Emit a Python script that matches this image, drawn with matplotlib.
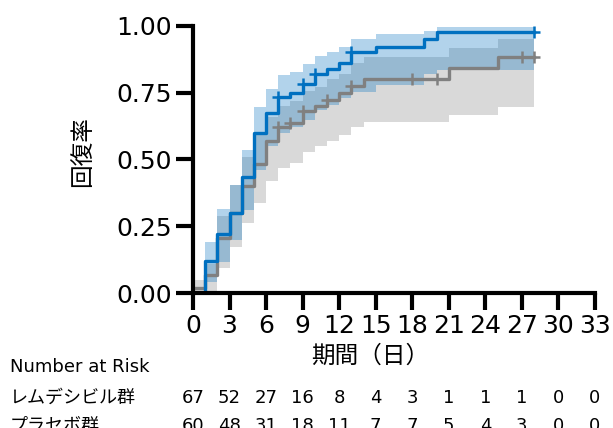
import numpy as np
import matplotlib
matplotlib.use("Agg")
import matplotlib.pyplot as plt
from matplotlib.transforms import blended_transform_factory

plt.rcParams['font.family'] = ['DejaVu Sans', 'Noto Sans CJK JP']

# remdesivir group (step times, estimate, lower/upper band)
rem_t = [0, 1, 2, 3, 4, 5, 6, 7, 8, 9, 10, 11, 12, 13, 15, 19, 20, 28]
rem_s = [0, 0.12, 0.22, 0.30, 0.436, 0.598, 0.675, 0.733, 0.75, 0.783, 0.82,
         0.84, 0.86, 0.903, 0.922, 0.953, 0.976, 0.976]
rem_lo = [0, 0.04, 0.115, 0.20, 0.31, 0.46, 0.55, 0.60, 0.62, 0.648, 0.685,
          0.704, 0.73, 0.754, 0.78, 0.82, 0.835, 0.835]
rem_hi = [0, 0.19, 0.313, 0.404, 0.536, 0.695, 0.763, 0.816, 0.829, 0.858,
          0.888, 0.904, 0.922, 0.95, 0.97, 0.98, 0.995, 0.995]
rem_cens_t = [7, 9, 10, 13, 28]
rem_cens_s = [0.733, 0.783, 0.82, 0.903, 0.976]

# placebo group
pla_t = [0, 1, 2, 3, 4, 5, 6, 7, 8, 9, 10, 11, 12, 13, 14, 21, 25, 28]
pla_s = [0.017, 0.067, 0.205, 0.30, 0.40, 0.483, 0.57, 0.62, 0.638, 0.683,
         0.70, 0.723, 0.75, 0.775, 0.803, 0.842, 0.883, 0.883]
pla_lo = [0, 0, 0.092, 0.173, 0.261, 0.338, 0.419, 0.469, 0.488, 0.527,
          0.551, 0.57, 0.593, 0.62, 0.642, 0.667, 0.695, 0.695]
pla_hi = [0.05, 0.11, 0.29, 0.404, 0.51, 0.60, 0.66, 0.70, 0.72, 0.757,
          0.77, 0.80, 0.82, 0.86, 0.885, 0.916, 0.95, 0.95]
pla_cens_t = [7, 8, 9, 11, 13, 18, 20, 27, 28]
pla_cens_s = [0.62, 0.638, 0.683, 0.723, 0.775, 0.803, 0.803, 0.883, 0.883]

# number at risk
risk_days = [0, 3, 6, 9, 12, 15, 18, 21, 24, 27, 30, 33]
rem_risk = [67, 52, 27, 16, 8, 4, 3, 1, 1, 1, 0, 0]
pla_risk = [60, 48, 31, 18, 11, 7, 7, 5, 4, 3, 0, 0]

blue = '#0070c0'
gray = '#808080'

fig = plt.figure(figsize=(6.13, 4.28), dpi=100)
ax = fig.add_axes([0.3148, 0.3154, 0.6558, 0.6239])

ax.fill_between(pla_t, pla_lo, pla_hi, step='post', color='#d9d9d9', lw=0)
ax.step(pla_t, pla_s, where='post', color=gray, lw=2.4)
ax.plot(pla_cens_t, pla_cens_s, ls='none', marker='+', ms=9, mew=1.8, color=gray)

ax.fill_between(rem_t, rem_lo, rem_hi, step='post', color=blue, alpha=0.3, lw=0)
ax.step(rem_t, rem_s, where='post', color=blue, lw=2.4)
ax.plot(rem_cens_t, rem_cens_s, ls='none', marker='+', ms=9, mew=1.8, color=blue)

ax.set_xlim(0, 33)
ax.set_ylim(0, 1)
ax.set_xticks(risk_days)
ax.set_yticks([0, 0.25, 0.5, 0.75, 1.0])
ax.set_yticklabels(['0.00', '0.25', '0.50', '0.75', '1.00'])
for s in ['top', 'right']:
    ax.spines[s].set_visible(False)
for s in ['left', 'bottom']:
    ax.spines[s].set_linewidth(3)
ax.tick_params(axis='both', length=12, width=3, labelsize=18, direction='out')
ax.tick_params(axis='x', pad=3)
ax.tick_params(axis='y', pad=3)

ax.set_ylabel('回復率', fontsize=17, family=['Noto Sans CJK JP'], va='center')
ax.yaxis.set_label_coords(-0.275, 0.53)
ax.set_xlabel('期間（日）', fontsize=17, family=['Noto Sans CJK JP'], va='center')
ax.xaxis.set_label_coords(0.44, -0.236)

trans = blended_transform_factory(ax.transData, fig.transFigure)
fig.text(10 / 613, 1 - 367 / 428, 'Number at Risk', fontsize=13, va='center')
fig.text(10 / 613, 1 - 398 / 428, 'レムデシビル群', fontsize=13, va='center',
         family=['Noto Sans CJK JP'])
fig.text(10 / 613, 1 - 426 / 428, 'プラセボ群', fontsize=13, va='center',
         family=['Noto Sans CJK JP'])
for d, r1, r2 in zip(risk_days, rem_risk, pla_risk):
    ax.text(d, 1 - 398 / 428, str(r1), transform=trans, ha='center', va='center',
            fontsize=13, clip_on=False)
    ax.text(d, 1 - 426 / 428, str(r2), transform=trans, ha='center', va='center',
            fontsize=13, clip_on=False)

fig.savefig('out.png', dpi=100)
